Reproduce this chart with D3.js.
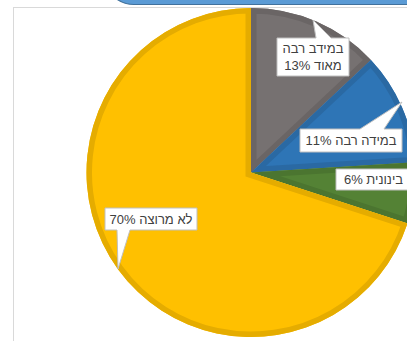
<!DOCTYPE html>
<html><head><meta charset="utf-8">
<script src="https://cdn.jsdelivr.net/npm/d3@7"></script>
<style>
html,body{margin:0;padding:0;background:#fff;overflow:hidden;}
svg{display:block;}
text{font-family:"Liberation Sans",Arial,sans-serif;}
</style></head>
<body>
<script>
// Data
const categories = ["במידב רבה מאוד", "במידה רבה", "בינונית", "לא מרוצה"];
const values = [13, 11, 6, 70];
const labelLines = [["במידב רבה", "מאוד 13%"], ["במידה רבה 11%"], ["בינונית 6%"], ["לא מרוצה 70%"]];
const fills = ["#767171", "#2E75B6", "#548235", "#FFC000"];
const borders = ["#6A6565", "#2A69A3", "#4B7530", "#E5AC00"];

const W = 407, H = 341;
const cx = 251, cy = 172.5, R = 164.5;

const svg = d3.select("body").append("svg").attr("width", W).attr("height", H);

// top banner shape (partially visible)
svg.append("rect").attr("x", 104).attr("y", -60).attr("width", 340).attr("height", 64.5)
  .attr("rx", 30).attr("fill", "#5B9BD5").attr("stroke", "#41719C").attr("stroke-width", 1.2);

// chart frame
svg.append("rect").attr("x", 13.5).attr("y", 7.5).attr("width", 420).attr("height", 360)
  .attr("fill", "#fff").attr("stroke", "#D9D9D9").attr("stroke-width", 1);

const data = categories.map((c, i) => ({cat: c, value: values[i], i}));
const pie = d3.pie().value(d => d.value).sort(null);
const arcs = pie(data);
const arc = d3.arc().innerRadius(0).outerRadius(R);

const g = svg.append("g").attr("transform", `translate(${cx},${cy})`);
const defs = svg.append("defs");
arcs.forEach((a, i) => {
  defs.append("clipPath").attr("id", "clip" + i).append("path").attr("d", arc(a));
});
const slices = g.selectAll("g.slice").data(arcs).join("g").attr("class", "slice");
slices.append("path").attr("d", arc).attr("fill", d => fills[d.data.i]);
slices.append("path").attr("d", arc).attr("fill", "none")
  .attr("stroke", d => borders[d.data.i]).attr("stroke-width", 11)
  .attr("stroke-linejoin", "miter")
  .attr("clip-path", d => `url(#clip${d.data.i})`);

// callout layout (box rect + pointer)
const callouts = [
  {box: [277, 38, 72, 38], base: [316, 331], tip: [313, 20], side: "top"},
  {box: [300, 129, 102, 23], base: [360, 384], tip: [402, 102], side: "top"},
  {box: [336, 169, 75, 21], base: null, tip: null, side: null},
  {box: [105, 208, 92, 22], base: [117, 130], tip: [118, 269], side: "bottom"}
];

const lab = svg.append("g");
callouts.forEach((c, i) => {
  const [x, y, w, h] = c.box;
  let p;
  if (c.side === "top") {
    p = `M${x},${y}L${c.base[0]},${y}L${c.tip[0]},${c.tip[1]}L${c.base[1]},${y}L${x + w},${y}L${x + w},${y + h}L${x},${y + h}Z`;
  } else if (c.side === "bottom") {
    p = `M${x},${y}L${x + w},${y}L${x + w},${y + h}L${c.base[1]},${y + h}L${c.tip[0]},${c.tip[1]}L${c.base[0]},${y + h}L${x},${y + h}Z`;
  } else {
    p = `M${x},${y}L${x + w},${y}L${x + w},${y + h}L${x},${y + h}Z`;
  }
  lab.append("path").attr("d", p).attr("fill", "#fff").attr("stroke", "#BFBFBF").attr("stroke-width", 1);
  const lines = labelLines[i];
  const lh = 17;
  const t = lab.append("text").attr("text-anchor", "middle").attr("direction", "rtl")
    .attr("font-size", 13).attr("fill", "#404040");
  lines.forEach((ln, k) => {
    t.append("tspan").attr("x", x + w / 2)
      .attr("y", y + h / 2 + (k - (lines.length - 1) / 2) * lh + 4.7)
      .text(ln);
  });
});
</script>
</body></html>
